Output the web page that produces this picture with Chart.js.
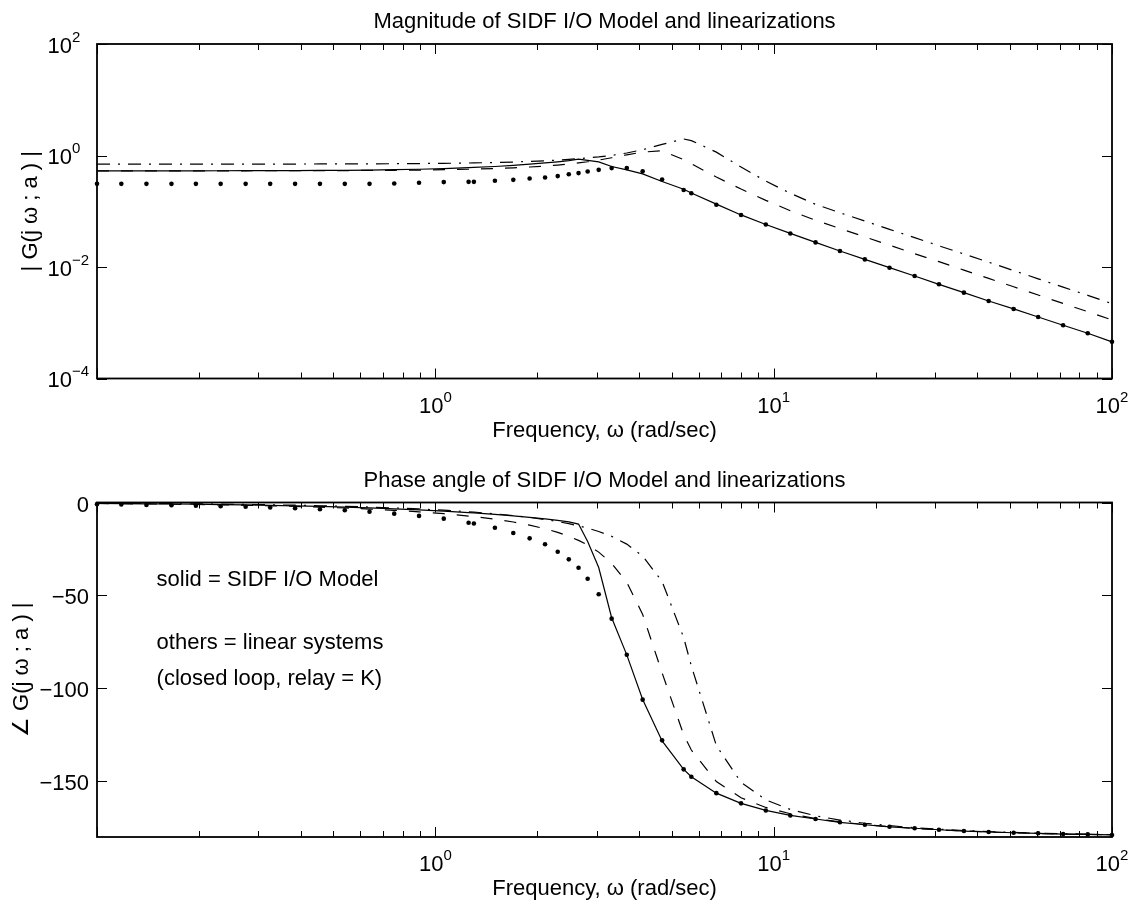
<!DOCTYPE html>
<html lang="en">
<head>
  <meta charset="UTF-8">
  <title>Magnitude and phase of SIDF I/O Model and linearizations</title>
  <script src="https://cdn.jsdelivr.net/npm/chart.js"></script>
  <style>
    html, body { margin: 0; padding: 0; background: #fff; }
    #wrap { position: relative; width: 1133px; height: 904px; }
    .panel { position: absolute; left: 0; width: 1133px; height: 452px; }
    #magPanel { top: 0; }
    #phasePanel { top: 452px; }
  </style>
</head>
<body>
  <div id="wrap">
    <div class="panel" id="magPanel"><canvas id="magChart" width="1133" height="452"></canvas></div>
    <div class="panel" id="phasePanel"><canvas id="phaseChart" width="1133" height="452"></canvas></div>
  </div>

  <script>
    // frequency grid (rad/sec), shared by every curve
    const freq = [0.1, 0.118, 0.14, 0.166, 0.196, 0.232, 0.275, 0.325, 0.385, 0.456,
      0.54, 0.639, 0.756, 0.895, 1.059, 1.254, 1.3, 1.5, 1.7, 1.9,
      2.11, 2.3, 2.48, 2.65, 2.82, 3.04, 3.32, 3.68, 4.1, 4.68,
      5.42, 5.71, 6.77, 8.01, 9.48, 11.2, 13.3, 15.7, 18.6, 22.0,
      26.1, 30.8, 36.5, 43.2, 51.2, 60.5, 71.7, 84.8, 100];

    // magnitude |G(jw;a)|
    const magSolid = [0.531, 0.531, 0.531, 0.532, 0.532, 0.533, 0.534, 0.535, 0.537, 0.54,
      0.543, 0.548, 0.556, 0.567, 0.583, 0.605, 0.61, 0.635, 0.665, 0.70,
      0.735, 0.77, 0.81, 0.86, 0.82, 0.77, 0.634, 0.553, 0.469, 0.342,
      0.248, 0.212, 0.134, 0.0859, 0.058, 0.04, 0.0276, 0.0194, 0.0137, 0.00972,
      0.0069, 0.00489, 0.00347, 0.00246, 0.00177, 0.00127, 0.0009, 0.000647, 0.000454];
    const magDashed = [0.530, 0.530, 0.530, 0.531, 0.531, 0.531, 0.532, 0.533, 0.534, 0.535,
      0.537, 0.540, 0.543, 0.548, 0.556, 0.567, 0.569, 0.584, 0.60, 0.622,
      0.647, 0.674, 0.704, 0.736, 0.772, 0.827, 0.91, 1.03, 1.15, 1.22,
      0.84, 0.71, 0.41, 0.25, 0.157, 0.102, 0.069, 0.049, 0.0347, 0.0246,
      0.0173, 0.01245, 0.00879, 0.00624, 0.00442, 0.00314, 0.00222, 0.00158, 0.00112];
    const magDashDot = [0.70, 0.70, 0.70, 0.70, 0.70, 0.701, 0.701, 0.702, 0.703, 0.705,
      0.706, 0.709, 0.712, 0.717, 0.724, 0.733, 0.736, 0.749, 0.764, 0.782,
      0.804, 0.826, 0.85, 0.877, 0.908, 0.945, 1.005, 1.11, 1.27, 1.58,
      1.98, 1.85, 1.15, 0.62, 0.347, 0.21, 0.133, 0.0942, 0.0667, 0.0474,
      0.0336, 0.024, 0.0171, 0.0122, 0.00863, 0.00614, 0.00435, 0.0031, 0.0022];
    const magDots = [0.31, 0.31, 0.31, 0.31, 0.31, 0.31, 0.31, 0.31, 0.31, 0.31,
      0.31, 0.31, 0.315, 0.324, 0.333, 0.337, 0.337, 0.352, 0.366, 0.387,
      0.403, 0.427, 0.46, 0.483, 0.515, 0.553, 0.594, 0.598, 0.52, 0.371,
      0.24, 0.21, 0.131, 0.0859, 0.058, 0.04, 0.0276, 0.0194, 0.0137, 0.00972,
      0.0069, 0.00489, 0.00347, 0.00246, 0.00177, 0.00127, 0.0009, 0.000647, 0.000454];

    // phase angle (deg)
    const phSolid = [-0.5, -0.6, -0.7, -0.8, -0.9, -1.1, -1.3, -1.5, -1.8, -2.1,
      -2.5, -2.9, -3.4, -4.0, -4.6, -5.4, -5.6, -6.4, -7.2, -8.0,
      -8.8, -9.6, -10.4, -11.6, -21, -35, -62, -82, -106, -128.3,
      -143.6, -147.6, -156.4, -161.9, -165.7, -168.4, -170.3, -172.1, -173.4, -174.5,
      -175.3, -176.1, -176.8, -177.3, -177.7, -178.0, -178.4, -178.6, -178.9];
    const phDashed = [-0.54, -0.64, -0.76, -0.90, -1.06, -1.26, -1.50, -1.77, -2.10, -2.49,
      -2.96, -3.53, -4.20, -5.03, -6.03, -7.29, -7.60, -9.0, -10.5, -12.2,
      -14.1, -16.1, -18.2, -20.4, -22.9, -26.7, -32.7, -43.0, -60.2, -91.7,
      -125.0, -133.2, -150.2, -158.9, -164.1, -167.5, -170.1, -171.9, -173.3, -174.4,
      -175.4, -176.1, -176.7, -177.3, -177.7, -178.1, -178.4, -178.6, -178.8];
    const phDashDot = [-0.38, -0.45, -0.53, -0.63, -0.74, -0.88, -1.04, -1.23, -1.46, -1.74,
      -2.06, -2.45, -2.91, -3.47, -4.14, -4.97, -5.17, -6.07, -7.02, -8.02,
      -9.15, -10.26, -11.38, -12.54, -13.79, -15.58, -18.22, -22.39, -28.86, -42.5,
      -72.7, -87.9, -130.8, -150.6, -160.0, -165.2, -168.6, -170.9, -172.6, -173.9,
      -175.0, -175.8, -176.5, -177.1, -177.5, -177.9, -178.2, -178.5, -178.7];
    const phDots = [-0.9, -1.1, -1.3, -1.5, -1.7, -2.0, -2.3, -2.7, -3.1, -3.6,
      -4.2, -5.0, -6.0, -7.2, -8.7, -10.9, -11.3, -13.6, -16.4, -19.3,
      -22.5, -26.5, -30.6, -35.1, -41.0, -49.4, -62.5, -81.9, -106.1, -128.0,
      -143.6, -147.6, -156.4, -161.9, -165.7, -168.4, -170.3, -172.1, -173.4, -174.5,
      -175.3, -176.1, -176.8, -177.3, -177.7, -178.0, -178.4, -178.6, -178.9];

    // axis ticks and labels
    const xMajorTicks = [0.1, 1, 10, 100];
    const xMinorTicks = [0.2, 0.3, 0.4, 0.5, 0.6, 0.7, 0.8, 0.9, 2, 3, 4, 5, 6, 7, 8, 9,
      20, 30, 40, 50, 60, 70, 80, 90];
    const xLabelTicks = [1, 10, 100];
    const xLabelExps = ['0', '1', '2'];
    const magTicks = [100, 1, 0.01, 0.0001];
    const magExps = ['2', '0', '\u22122', '\u22124'];
    const phaseTicks = [0, -50, -100, -150];
    const phaseLabels = ['0', '\u221250', '\u2212100', '\u2212150'];

    const FONT = '"Liberation Sans", Arial, Helvetica, sans-serif';

    function pts(values) {
      return freq.map((f, i) => ({ x: f, y: values[i] }));
    }

    function lineSet(label, values, dash) {
      return {
        label: label,
        data: pts(values),
        borderColor: '#000',
        borderWidth: 1.2,
        borderDash: dash,
        pointRadius: 0,
        fill: false,
        tension: 0,
        clip: false
      };
    }

    function dotSet(label, values) {
      return {
        label: label,
        data: pts(values),
        showLine: false,
        pointRadius: 2.3,
        pointBackgroundColor: '#000',
        pointBorderWidth: 0,
        clip: false
      };
    }

    // draws "10" with a raised exponent, baseline of the "10" at y
    function power(ctx, exp, x, y, mode) {
      ctx.font = '22px ' + FONT;
      const wb = ctx.measureText('10').width;
      ctx.font = '15px ' + FONT;
      const we = ctx.measureText(exp).width;
      let x0;
      if (mode === 'center') x0 = x - (wb + we) / 2;
      else x0 = x - wb; // base right edge at x
      ctx.textAlign = 'left';
      ctx.textBaseline = 'alphabetic';
      ctx.font = '22px ' + FONT;
      ctx.fillText('10', x0, y);
      ctx.font = '15px ' + FONT;
      ctx.fillText(exp, x0 + wb, y - 11);
    }

    // MATLAB style box, inward ticks, labels and titles
    function matlabFrame(cfg) {
      return {
        id: 'matlabFrame',
        afterDatasetsDraw(chart) {
          const ctx = chart.ctx;
          const a = chart.chartArea;
          const xs = chart.scales.x;
          const ys = chart.scales.y;
          ctx.save();
          ctx.strokeStyle = '#000';
          ctx.fillStyle = '#000';
          ctx.lineWidth = 1;
          ctx.beginPath();
          xMinorTicks.forEach(v => {
            const px = Math.round(xs.getPixelForValue(v)) + 0.5;
            ctx.moveTo(px, a.bottom); ctx.lineTo(px, a.bottom - 6);
            ctx.moveTo(px, a.top); ctx.lineTo(px, a.top + 6);
          });
          xMajorTicks.forEach(v => {
            const px = Math.round(xs.getPixelForValue(v)) + 0.5;
            ctx.moveTo(px, a.bottom); ctx.lineTo(px, a.bottom - 10);
            ctx.moveTo(px, a.top); ctx.lineTo(px, a.top + 10);
          });
          cfg.yTicks.forEach(v => {
            const py = Math.round(ys.getPixelForValue(v)) + 0.5;
            ctx.moveTo(a.left, py); ctx.lineTo(a.left + 10, py);
            ctx.moveTo(a.right, py); ctx.lineTo(a.right - 10, py);
          });
          ctx.stroke();

          ctx.lineWidth = 1.8;
          ctx.strokeRect(a.left, a.top, a.right - a.left, a.bottom - a.top);

          // x tick labels
          xLabelTicks.forEach((v, i) => {
            power(ctx, xLabelExps[i], xs.getPixelForValue(v), a.bottom + 34, 'center');
          });

          // y tick labels
          cfg.yTicks.forEach((v, i) => {
            const py = ys.getPixelForValue(v);
            if (cfg.yExps) {
              power(ctx, cfg.yExps[i], a.left - 25, py + 8.7, 'right');
            } else {
              ctx.font = '22px ' + FONT;
              ctx.textAlign = 'right';
              ctx.textBaseline = 'alphabetic';
              ctx.fillText(cfg.yLabels[i], a.left - 8, py + 9);
            }
          });

          const cx = (a.left + a.right) / 2;
          ctx.font = '22px ' + FONT;
          ctx.textAlign = 'center';
          ctx.textBaseline = 'alphabetic';
          ctx.fillText(cfg.title, cx, a.top - 16);
          ctx.fillText('Frequency, \u03c9 (rad/sec)', cx, a.bottom + 58);

          ctx.save();
          ctx.translate(cfg.yTitleX, (a.top + a.bottom) / 2);
          ctx.rotate(-Math.PI / 2);
          ctx.textBaseline = 'middle';
          ctx.fillText(cfg.yTitle, 0, 0);
          ctx.restore();

          (cfg.notes || []).forEach(n => {
            ctx.textAlign = 'left';
            ctx.textBaseline = 'alphabetic';
            ctx.fillText(n.text, xs.getPixelForValue(n.x), ys.getPixelForValue(n.y));
          });
          ctx.restore();
        }
      };
    }

    function baseOptions(padding, yScale) {
      return {
        responsive: false,
        animation: false,
        devicePixelRatio: 1,
        events: [],
        layout: { padding: padding },
        plugins: {
          legend: { display: false },
          tooltip: { enabled: false },
          title: { display: false }
        },
        scales: {
          x: { type: 'logarithmic', min: 0.1, max: 100, display: false },
          y: yScale
        }
      };
    }

    const magChart = new Chart(document.getElementById('magChart'), {
      type: 'line',
      data: {
        datasets: [
          lineSet('SIDF I/O Model', magSolid, []),
          lineSet('linear (dashed)', magDashed, [12, 12]),
          lineSet('linear (dash-dot)', magDashDot, [13, 8, 2, 8]),
          dotSet('points', magDots)
        ]
      },
      options: baseOptions({ left: 97, right: 21, top: 44, bottom: 73.5 },
        { type: 'logarithmic', min: 0.0001, max: 100, display: false }),
      plugins: [matlabFrame({
        title: 'Magnitude of SIDF I/O Model and linearizations',
        yTicks: magTicks,
        yExps: magExps,
        yTitle: '| G(j \u03c9 ; a ) |',
        yTitleX: 31
      })]
    });

    const phaseChart = new Chart(document.getElementById('phaseChart'), {
      type: 'line',
      data: {
        datasets: [
          lineSet('SIDF I/O Model', phSolid, []),
          lineSet('linear (dashed)', phDashed, [12, 12]),
          lineSet('linear (dash-dot)', phDashDot, [13, 8, 2, 8]),
          dotSet('points', phDots)
        ]
      },
      options: baseOptions({ left: 97, right: 21, top: 50.5, bottom: 67 },
        { type: 'linear', min: -180, max: 0, display: false }),
      plugins: [matlabFrame({
        title: 'Phase angle of SIDF I/O Model and linearizations',
        yTicks: phaseTicks,
        yLabels: phaseLabels,
        yTitle: '\u2220 G(j \u03c9 ; a ) |',
        yTitleX: 22,
        notes: [
          { text: 'solid = SIDF I/O Model', x: 0.15, y: -44.9 },
          { text: 'others = linear systems', x: 0.15, y: -78.7 },
          { text: '(closed loop, relay = K)', x: 0.15, y: -98.3 }
        ]
      })]
    });
  </script>
</body>
</html>
